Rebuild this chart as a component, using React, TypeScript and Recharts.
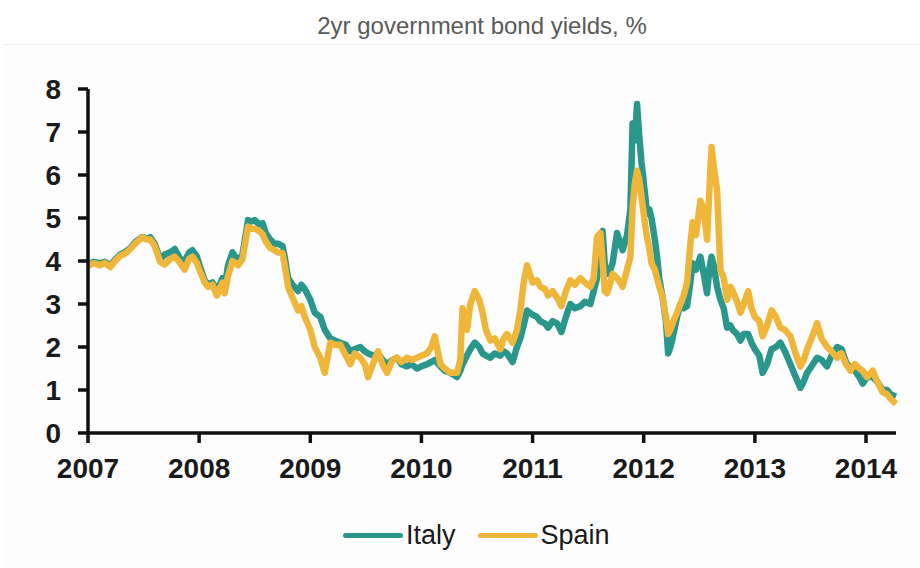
import { Line, LineChart, XAxis, YAxis } from 'recharts'

const ITALY_COLOR = '#2a978c'
const SPAIN_COLOR = '#efb63a'

const title = '2yr government bond yields, %'

// decimal years
const dates = [
  2007.0, 2007.05, 2007.11, 2007.15, 2007.2, 2007.25, 2007.29, 2007.34, 2007.38, 2007.43,
  2007.49, 2007.53, 2007.56, 2007.6, 2007.65, 2007.69, 2007.74, 2007.78, 2007.83, 2007.87,
  2007.91, 2007.94, 2007.98, 2008.01, 2008.05, 2008.08, 2008.12, 2008.16, 2008.21, 2008.23,
  2008.26, 2008.3, 2008.35, 2008.39, 2008.44, 2008.47, 2008.5, 2008.54, 2008.57, 2008.6,
  2008.64, 2008.68, 2008.71, 2008.75, 2008.77, 2008.8, 2008.84, 2008.89, 2008.92, 2008.95,
  2009.0, 2009.04, 2009.09, 2009.13, 2009.18, 2009.22, 2009.27, 2009.32, 2009.36, 2009.4,
  2009.45, 2009.49, 2009.52, 2009.57, 2009.61, 2009.65, 2009.69, 2009.74, 2009.78, 2009.82,
  2009.87, 2009.91, 2009.96, 2010.0, 2010.05, 2010.09, 2010.12, 2010.17, 2010.21, 2010.26,
  2010.32, 2010.35, 2010.37, 2010.41, 2010.44, 2010.48, 2010.52, 2010.55, 2010.58, 2010.62,
  2010.66, 2010.71, 2010.74, 2010.77, 2010.82, 2010.86, 2010.89, 2010.92, 2010.95, 2011.0,
  2011.04, 2011.07, 2011.11, 2011.14, 2011.18, 2011.22, 2011.26, 2011.3, 2011.34, 2011.38,
  2011.43, 2011.47, 2011.52, 2011.55, 2011.58, 2011.61, 2011.63, 2011.65, 2011.67, 2011.7,
  2011.72, 2011.76, 2011.79, 2011.81, 2011.85, 2011.88, 2011.9, 2011.92, 2011.94, 2011.96,
  2011.98, 2012.01, 2012.03, 2012.05, 2012.07, 2012.1, 2012.12, 2012.14, 2012.17, 2012.2,
  2012.22, 2012.24, 2012.26, 2012.3, 2012.33, 2012.36, 2012.39, 2012.42, 2012.44, 2012.47,
  2012.51, 2012.54, 2012.57, 2012.59, 2012.61, 2012.63, 2012.66, 2012.69, 2012.72, 2012.75,
  2012.78, 2012.8, 2012.84, 2012.87, 2012.9, 2012.94, 2012.97, 2013.0, 2013.04, 2013.07,
  2013.11, 2013.15, 2013.19, 2013.23, 2013.27, 2013.32, 2013.36, 2013.41, 2013.44, 2013.47,
  2013.51, 2013.56, 2013.6, 2013.65, 2013.69, 2013.74, 2013.78, 2013.82, 2013.86, 2013.9,
  2013.94, 2013.97, 2014.01, 2014.06, 2014.1, 2014.15, 2014.19, 2014.22, 2014.27,
]

const italy = [
  3.9, 3.98, 3.95, 3.98, 3.9, 4.05, 4.15, 4.22, 4.3, 4.45,
  4.56, 4.52, 4.55, 4.4, 4.05, 4.15, 4.2, 4.28, 4.05, 4.0,
  4.2, 4.25, 4.1, 3.85, 3.55, 3.45, 3.5, 3.3, 3.6, 3.4,
  3.9, 4.2, 4.0, 4.15, 4.95, 4.92, 4.95, 4.85, 4.88, 4.65,
  4.5, 4.4, 4.4, 4.35, 4.1, 3.6, 3.45, 3.3, 3.45, 3.35,
  3.1, 2.8, 2.7, 2.4, 2.2, 2.15, 2.1, 2.05, 1.9, 1.95,
  2.0, 1.9, 1.85, 1.8, 1.85, 1.7, 1.6, 1.7, 1.75, 1.6,
  1.55, 1.6, 1.5, 1.55, 1.6, 1.65, 1.7, 1.55, 1.45, 1.4,
  1.3, 1.45, 1.6, 1.8, 1.95, 2.1, 2.0, 1.85, 1.8, 1.75,
  1.85, 1.8, 1.9, 1.85, 1.65, 2.0, 2.2, 2.5, 2.85, 2.75,
  2.7, 2.6, 2.55, 2.45, 2.6, 2.55, 2.35, 2.7, 3.0, 2.9,
  2.95, 3.05, 3.0, 3.3, 3.6, 4.6, 4.7, 3.9, 3.7, 3.8,
  3.95, 4.65, 4.4, 4.25, 4.6, 5.2, 7.2, 6.8, 7.65, 6.9,
  6.3, 5.6, 5.1, 5.2, 5.0, 4.5, 4.1, 3.6, 3.15, 2.6,
  1.85, 2.0, 2.2, 2.7, 3.0, 2.9, 2.95, 3.5, 3.95, 3.8,
  4.1, 3.7, 3.25, 3.8, 4.1, 3.9, 3.4, 3.1, 2.9, 2.45,
  2.5, 2.4, 2.3, 2.15, 2.3, 2.3, 2.1, 1.95, 1.8, 1.4,
  1.6, 1.95, 2.0, 2.1, 1.9, 1.6, 1.35, 1.05, 1.2, 1.4,
  1.55, 1.75, 1.7, 1.55, 1.8, 2.0, 1.95, 1.65, 1.5, 1.45,
  1.3, 1.15, 1.3, 1.3, 1.2, 1.0, 1.0, 0.9, 0.85,
]

const spain = [
  3.88, 3.95, 3.9, 3.96, 3.86, 4.02, 4.12, 4.18, 4.28, 4.42,
  4.55, 4.5, 4.5, 4.35, 3.98, 3.92, 4.05, 4.1, 3.95, 3.8,
  4.05, 4.1, 3.95, 3.75, 3.5, 3.4, 3.45, 3.2, 3.5, 3.25,
  3.65, 4.0, 3.9, 4.05, 4.8, 4.75, 4.75, 4.7, 4.62, 4.45,
  4.3, 4.25, 4.2, 4.18, 3.9, 3.4, 3.15, 2.85, 2.95, 2.7,
  2.4, 2.0, 1.75, 1.4, 2.1, 2.05, 2.05, 1.8, 1.6, 1.85,
  1.75, 1.6, 1.3, 1.65, 1.9, 1.6, 1.4, 1.7, 1.75, 1.65,
  1.75, 1.7, 1.75, 1.8, 1.85, 2.0, 2.25, 1.6, 1.5, 1.4,
  1.4, 1.7, 2.9, 2.4, 3.0, 3.3, 3.1, 2.8, 2.4, 2.15,
  2.2, 1.95, 2.2, 2.3, 2.1, 2.4, 2.85, 3.5, 3.9, 3.5,
  3.55, 3.4, 3.35, 3.2, 3.3, 3.15, 2.95, 3.3, 3.55, 3.45,
  3.6, 3.5, 3.4, 3.6, 4.55, 4.65, 4.0, 3.3, 3.25, 3.5,
  3.7, 3.6, 3.5, 3.4, 3.8, 4.1, 5.25, 5.8, 6.1, 5.9,
  5.5, 4.9, 4.55, 4.3, 3.95, 3.8, 3.6, 3.4, 3.15, 2.7,
  2.3, 2.4, 2.55, 2.8, 3.0, 3.2, 3.5, 4.4, 4.9, 4.6,
  5.4, 5.2, 4.5, 5.6, 6.65, 6.2, 5.65, 3.8, 3.6, 3.1,
  3.4, 3.3, 3.05, 2.8, 3.0, 3.3, 2.9, 2.7, 2.6, 2.25,
  2.5, 2.85, 2.7, 2.45, 2.4, 2.25, 1.9, 1.55, 1.7, 1.95,
  2.2, 2.55, 2.2, 2.0, 1.9, 1.75, 1.85, 1.6, 1.45, 1.6,
  1.5, 1.45, 1.3, 1.45, 1.2, 0.95, 0.9, 0.8, 0.68,
]

const yearTicks = [2007, 2008, 2009, 2010, 2011, 2012, 2013, 2014]
const yTicks = [0, 1, 2, 3, 4, 5, 6, 7, 8]

const legendItems = [
  { name: 'Italy', color: ITALY_COLOR },
  { name: 'Spain', color: SPAIN_COLOR },
]

const data = dates.map((t, i) => ({ t, italy: italy[i], spain: spain[i] }))

const axisTick = { fill: '#1a1a1a', fontSize: 28, fontWeight: 700, fontFamily: 'Arial, "Liberation Sans", sans-serif' }

export default function App() {
  return (
    <div
      style={{
        position: 'absolute',
        left: 0,
        top: 0,
        width: 920,
        height: 568,
        background: '#fff',
        fontFamily: 'Arial, "Liberation Sans", sans-serif',
        overflow: 'hidden',
      }}
    >
      <div
        style={{
          position: 'absolute',
          top: 44,
          left: 4,
          right: 0,
          bottom: 0,
          borderTop: '1px solid #eeeeee',
          background: '#fdfdfd',
        }}
      />
      <div
        style={{
          position: 'absolute',
          top: 12,
          left: 0,
          width: 964,
          textAlign: 'center',
          fontSize: 24,
          color: '#5a5a5a',
          lineHeight: '28px',
        }}
      >
        {title}
      </div>
      <div style={{ position: 'absolute', left: 0, top: 0 }}>
        <LineChart width={920} height={568} data={data} margin={{ top: 89, right: 24, bottom: 85, left: 28 }}>
          <XAxis
            dataKey="t"
            type="number"
            domain={[2007, 2014.27]}
            ticks={yearTicks}
            interval={0}
            tick={axisTick}
            tickSize={10}
            tickMargin={15}
            axisLine={{ stroke: '#111', strokeWidth: 3.5 }}
            tickLine={{ stroke: '#111', strokeWidth: 3.5 }}
            height={50}
          />
          <YAxis
            type="number"
            domain={[0, 8]}
            ticks={yTicks}
            interval={0}
            tick={axisTick}
            tickSize={10}
            tickMargin={17}
            axisLine={{ stroke: '#111', strokeWidth: 3.5 }}
            tickLine={{ stroke: '#111', strokeWidth: 3.5 }}
            width={60}
          />
          <Line
            dataKey="italy"
            type="linear"
            stroke={ITALY_COLOR}
            strokeWidth={6.5}
            strokeLinejoin="round"
            dot={false}
            isAnimationActive={false}
          />
          <Line
            dataKey="spain"
            type="linear"
            stroke={SPAIN_COLOR}
            strokeWidth={6.5}
            strokeLinejoin="round"
            dot={false}
            isAnimationActive={false}
          />
        </LineChart>
      </div>
      <div
        style={{
          position: 'absolute',
          top: 518,
          left: 343,
          display: 'flex',
          alignItems: 'center',
          fontSize: 27,
          color: '#1a1a1a',
          lineHeight: '34px',
        }}
      >
        {legendItems.map((it, i) => (
          <div key={it.name} style={{ display: 'flex', alignItems: 'center', marginLeft: i === 0 ? 0 : 22 }}>
            <span
              style={{
                display: 'inline-block',
                width: 60,
                height: 5,
                borderRadius: 3,
                background: it.color,
                marginRight: 3,
              }}
            />
            <span>{it.name}</span>
          </div>
        ))}
      </div>
    </div>
  )
}
